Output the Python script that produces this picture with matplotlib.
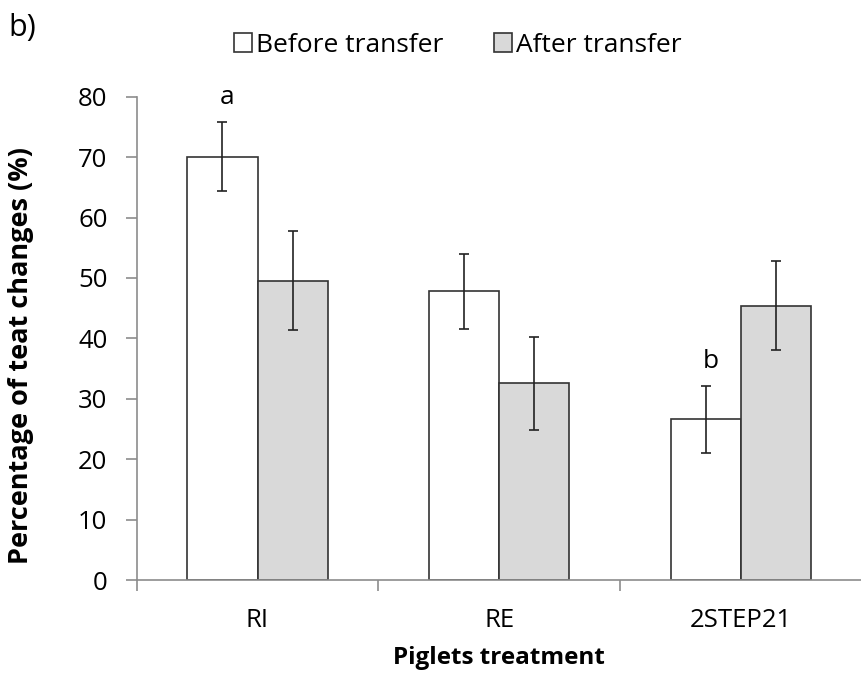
import numpy as np
import matplotlib.pyplot as plt
from matplotlib.patches import Patch

plt.rcParams['font.family'] = ['Open Sans', 'DejaVu Sans']

treatments = ['RI', 'RE', '2STEP21']
before = [70.1, 47.8, 26.6]
after = [49.5, 32.6, 45.4]
before_err = [5.7, 6.2, 5.5]
after_err = [8.2, 7.7, 7.4]
letters = ['a', '', 'b']

edge = '#333333'
axcol = '#8c8c8c'

fig = plt.figure(figsize=(8.62, 6.78), dpi=100)
ax = fig.add_axes([136.7 / 862, 98 / 678, 725 / 862, 483.3 / 678])

x = np.arange(len(treatments))
w = 0.29
ekw = dict(elinewidth=1.2, capthick=1.2, ecolor='#222222')
ax.bar(x - w / 2, before, w, color='white', edgecolor=edge, linewidth=1.2,
       yerr=before_err, capsize=3.6, error_kw=ekw, label='Before transfer')
ax.bar(x + w / 2, after, w, color='#d9d9d9', edgecolor=edge, linewidth=1.2,
       yerr=after_err, capsize=3.6, error_kw=ekw, label='After transfer')

# significance letters above the "before" bars
for i, s in enumerate(letters):
    if s:
        ax.text(x[i] - w / 2 + 0.02, before[i] + before_err[i] + 2.0, s,
                ha='center', va='bottom', fontsize=19)

ax.set_xlim(-0.5, 2.5)
ax.set_ylim(0, 80)
ax.set_yticks(np.arange(0, 81, 10))
ax.set_xticks(x)
ax.set_xticklabels(treatments)
ax.set_xticks([-0.5, 0.5, 1.5, 2.5], minor=True)
ax.tick_params(axis='x', which='major', length=0, pad=20, labelsize=18.5)
ax.tick_params(axis='x', which='minor', length=8, color=axcol, width=1.2)
ax.tick_params(axis='y', length=8, color=axcol, width=1.2, pad=13, labelsize=18.5)

for side in ['top', 'right']:
    ax.spines[side].set_visible(False)
for side in ['left', 'bottom']:
    ax.spines[side].set_color(axcol)
    ax.spines[side].set_linewidth(1.2)

ax.set_ylabel('Percentage of teat changes (%)', fontsize=19.5, fontweight='bold')
ax.yaxis.set_label_coords(-0.141, 0.465)
ax.set_xlabel('Piglets treatment', fontsize=17.5, fontweight='bold')
ax.xaxis.set_label_coords(0.5, -0.137)

handles = [Patch(facecolor='white', edgecolor=edge, linewidth=1.2),
           Patch(facecolor='#d9d9d9', edgecolor=edge, linewidth=1.2)]
fig.legend(handles, ['Before transfer', 'After transfer'], loc='center',
           bbox_to_anchor=(458 / 862, 1 - 45 / 678), ncol=2, frameon=False,
           fontsize=19, handlelength=0.7, handleheight=0.7, handletextpad=0.15,
           columnspacing=1.9, borderpad=0)

fig.text(8 / 862, 1 - 28 / 678, 'b)', fontsize=22, va='center', ha='left')

fig.savefig('out.png', dpi=100)
